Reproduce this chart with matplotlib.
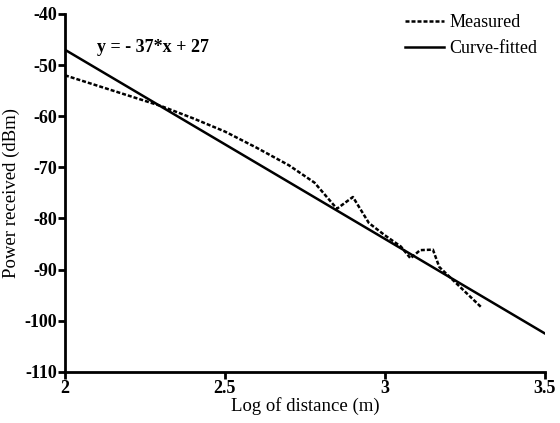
import numpy as np
import matplotlib.pyplot as plt

plt.rcParams['font.family'] = ['Liberation Serif', 'DejaVu Serif']
plt.rcParams['axes.unicode_minus'] = False

# measured path loss samples (log10 distance, dBm)
log_dist = [2.0, 2.1, 2.2, 2.3, 2.4, 2.5, 2.6, 2.7, 2.78, 2.85, 2.9,
            2.95, 3.0, 3.05, 3.08, 3.11, 3.15, 3.17, 3.22, 3.3]
power_meas = [-52, -54, -56, -58, -60.4, -63.0, -66.2, -69.6, -73, -78.1, -75.8,
              -80.9, -83.3, -85.5, -87.8, -86.2, -86.1, -89.5, -92.5, -97.3]

# fitted line y = -37*x + 27
slope, intercept = -37, 27
fit_x = np.array([2.0, 3.5])
fit_y = slope * fit_x + intercept

xticks = [2, 2.5, 3, 3.5]
xticklabels = ['2', '2.5', '3', '3.5']
yticks = list(range(-110, -39, 10))

fig = plt.figure(figsize=(5.6, 4.23), dpi=100)
ax = fig.add_axes([0.116, 0.121, 0.857, 0.846])

ax.plot(log_dist, power_meas, color='black', lw=1.8, linestyle=(0, (1.6, 0.8)),
        label='Measured')
ax.plot(fit_x, fit_y, color='black', lw=1.8, label='Curve-fitted')

ax.set_xlim(2, 3.5)
ax.set_ylim(-110, -40)
ax.set_xticks(xticks)
ax.set_xticklabels(xticklabels)
ax.set_yticks(yticks)

for s in ['top', 'right']:
    ax.spines[s].set_visible(False)
for s in ['left', 'bottom']:
    ax.spines[s].set_linewidth(2)
ax.tick_params(direction='out', length=5, width=2, labelsize=13, pad=1)
for lab in ax.get_xticklabels() + ax.get_yticklabels():
    lab.set_fontweight('bold')

ax.set_xlabel('Log of distance (m)', fontsize=13.5, labelpad=0)
ax.set_ylabel('Power received (dBm)', fontsize=13.5, labelpad=3)

ax.text(2.1, -46.6, 'y = - 37*x + 27', fontsize=13, fontweight='bold', va='center')

ax.legend(loc='upper right', frameon=False, fontsize=13, handlelength=2.2,
          handletextpad=0.3, borderaxespad=0.0, labelspacing=0.5,
          bbox_to_anchor=(1.0, 1.02))

fig.savefig('out.png', dpi=100)
